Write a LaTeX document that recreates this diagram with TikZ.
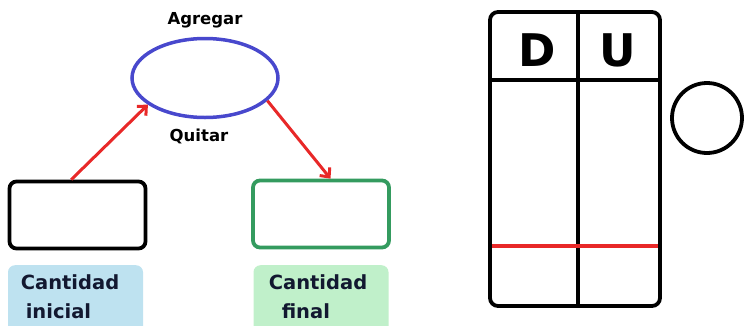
\documentclass[tikz,border=0pt]{standalone}
\usepackage{fontspec}
\setmainfont{DejaVu Sans}
\usetikzlibrary{arrows.meta,shapes.geometric}
\definecolor{azulop}{RGB}{72,72,205}
\definecolor{rojo}{RGB}{232,40,40}
\definecolor{verde}{RGB}{52,155,95}
\definecolor{celeste}{RGB}{190,226,240}
\definecolor{verdeclaro}{RGB}{192,240,202}
\definecolor{tinta}{RGB}{18,24,48}

\begin{document}
\begin{tikzpicture}[x=1pt,y=-1pt]
\useasboundingbox (0,0) rectangle (744,325);

\begin{scope}[every node/.style={line width=3.8pt,rounded corners=7pt,minimum width=136pt,minimum height=67pt,inner sep=0pt}]
    \node[draw=black] (inicio) at (77.5,215) {};
    \node[draw=verde] (fin) at (321,214) {};
\end{scope}
\node[draw=azulop,line width=3.5pt,ellipse,minimum width=146pt,minimum height=79pt,inner sep=0pt] (op) at (205,78) {};

\begin{scope}[every node/.style={font=\bfseries\fontsize{16.5}{18}\selectfont}]
    \node (agregar) at (205,20) {Agregar};
    \node (quitar) at (199,136) {Quitar};
\end{scope}

\begin{scope}[every node/.style={rounded corners=7pt,minimum width=135pt,minimum height=72pt,anchor=north}]
    \node[fill=celeste] (fondoini) at (75.5,265) {};
    \node[fill=verdeclaro] (fondofin) at (321,265) {};
\end{scope}
\begin{scope}[every node/.style={text=tinta,align=left,font=\bfseries\fontsize{19.5}{29}\selectfont}]
    \node (txtini) at (70,297) {Cantidad\\\hspace{5pt}inicial};
    \node (txtfin) at (318,297) {Cantidad\\\hspace{13pt}final};
\end{scope}

\begin{scope}[>={Straight Barb[length=7pt,width=13pt]},
              every edge/.style={draw=rojo, line width=3pt}]
    \path [->] (inicio.100) edge (op.205);
    \path [->] (op.340) edge (fin.75);
\end{scope}

% tabla de decenas y unidades
\draw[line width=3.8pt,rounded corners=8pt] (490,12) rectangle (660,306);
\draw[line width=3.8pt] (578,12) -- (578,306);
\draw[line width=3.8pt] (490,80) -- (660,80);
\draw[rojo,line width=3.8pt] (492,246) -- (658,246);
\begin{scope}[every node/.style={font=\bfseries\fontsize{45}{48}\selectfont}]
    \node (dec) at (537,50) {D};
    \node (uni) at (618,50) {U};
\end{scope}
\node[draw,circle,line width=3.8pt,minimum size=70pt,inner sep=0pt] (signo) at (707,118) {};
\end{tikzpicture}
\end{document}
